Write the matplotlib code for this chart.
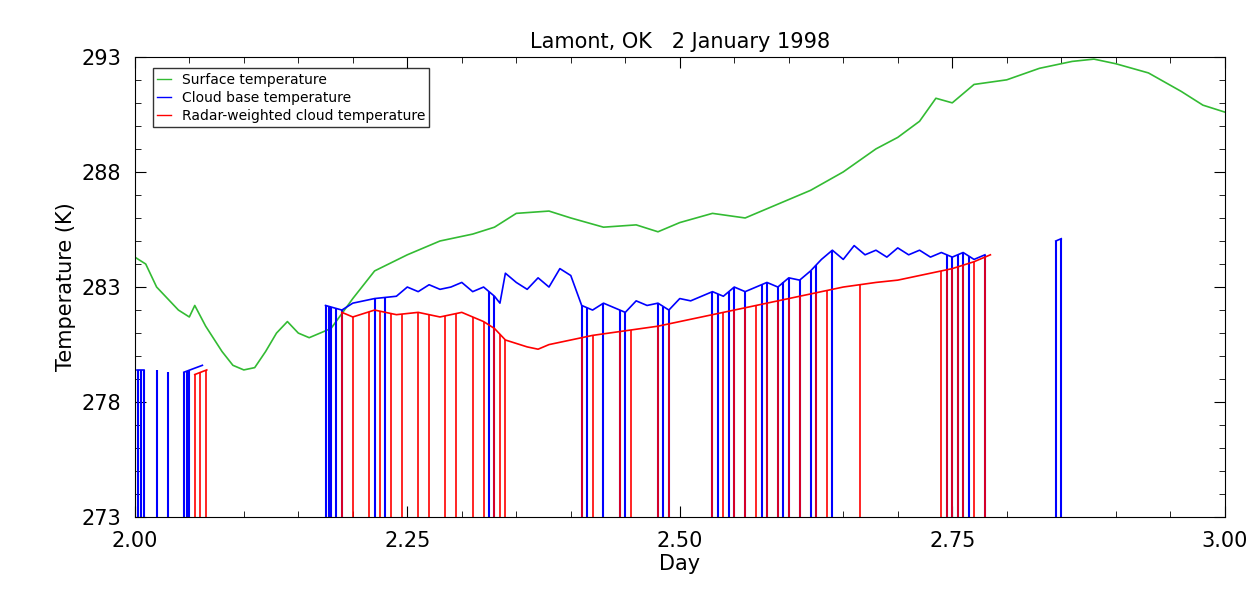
import numpy as np
import matplotlib.pyplot as plt
from matplotlib.ticker import MultipleLocator

# surface temperature (day, K)
sfc_day = [2.00,2.01,2.02,2.03,2.04,2.05,2.055,2.065,2.08,2.09,2.10,2.11,2.12,2.13,2.14,2.15,2.16,2.18,2.20,2.22,
           2.25,2.28,2.31,2.33,2.35,2.38,2.40,2.43,2.46,2.48,2.50,2.53,2.56,2.59,2.62,2.65,2.68,2.70,2.72,2.735,
           2.75,2.77,2.80,2.83,2.86,2.88,2.90,2.93,2.96,2.98,3.00]
sfc_T = [284.3,284.0,283.0,282.5,282.0,281.7,282.2,281.3,280.2,279.6,279.4,279.5,280.2,281.0,281.5,281.0,280.8,281.2,282.5,283.7,
         284.4,285.0,285.3,285.6,286.2,286.3,286.0,285.6,285.7,285.4,285.8,286.2,286.0,286.6,287.2,288.0,289.0,289.5,290.2,291.2,
         291.0,291.8,292.0,292.5,292.8,292.9,292.7,292.3,291.5,290.9,290.6]

# cloud base temperature, segments
cb_day = [[2.002,2.008],[2.045,2.062],
          [2.175,2.19,2.20,2.22,2.24,2.25,2.26,2.27,2.28,2.29,2.30,2.31,2.32,2.33,2.335,2.34,2.35,2.36,2.37,2.38,2.39,2.40,2.41,
           2.42,2.43,2.44,2.45,2.46,2.47,2.48,2.49,2.50,2.51,2.52,2.53,2.54,2.55,2.56,2.57,2.58,2.59,2.60,2.61,2.62,2.63,
           2.64,2.65,2.66,2.67,2.68,2.69,2.70,2.71,2.72,2.73,2.74,2.75,2.76,2.77,2.78],
          [2.845,2.85]]
cb_T = [[279.4,279.4],[279.3,279.6],
        [282.2,282.0,282.3,282.5,282.6,283.0,282.8,283.1,282.9,283.0,283.2,282.8,283.0,282.6,282.3,283.6,283.2,282.9,283.4,283.0,283.8,283.5,282.2,
         282.0,282.3,282.1,281.9,282.4,282.2,282.3,282.0,282.5,282.4,282.6,282.8,282.6,283.0,282.8,283.0,283.2,283.0,283.4,283.3,283.7,284.2,
         284.6,284.2,284.8,284.4,284.6,284.3,284.7,284.4,284.6,284.3,284.5,284.3,284.5,284.2,284.4],
        [285.0,285.1]]

# radar-weighted cloud temperature, segments
rw_day = [[2.055,2.066],
          [2.19,2.20,2.22,2.24,2.26,2.28,2.30,2.32,2.33,2.34,2.36,2.37,2.38,2.40,2.42,2.45,2.48,2.50,2.52,2.55,2.58,2.60,2.62,2.65,2.68,2.70,2.72,2.75,2.77,2.785]]
rw_T = [[279.2,279.4],
        [281.9,281.7,282.0,281.8,281.9,281.7,281.9,281.5,281.2,280.7,280.4,280.3,280.5,280.7,280.9,281.1,281.3,281.5,281.7,282.0,282.3,282.5,282.7,283.0,283.2,283.3,283.5,283.8,284.1,284.4]]

cb_drops = [2.003,2.006,2.008,2.020,2.030,2.045,2.048,2.050,2.175,2.178,2.180,2.185,2.190,2.220,2.230,2.325,2.330,2.410,2.415,
            2.430,2.445,2.450,2.480,2.485,2.490,2.530,2.535,2.545,2.550,2.560,2.575,2.580,2.590,2.595,2.600,2.610,2.620,2.625,
            2.640,2.745,2.750,2.755,2.760,2.765,2.780,2.845,2.850]
rw_drops = [2.055,2.060,2.065,2.190,2.200,2.215,2.225,2.235,2.245,2.260,2.270,2.285,2.295,2.310,2.320,2.330,2.335,2.340,
            2.410,2.420,2.445,2.455,2.480,2.490,2.530,2.540,2.550,2.560,2.570,2.580,2.590,2.600,2.610,2.625,2.635,2.665,
            2.740,2.745,2.750,2.755,2.760,2.770,2.780]

def top_of(t, days, temps):
    for d, v in zip(days, temps):
        if d[0] - 0.015 <= t <= d[-1] + 0.015:
            return np.interp(t, d, v)
    return np.interp(t, days[0], temps[0])

fig, ax = plt.subplots(figsize=(12.6, 5.98), dpi=100)
fig.subplots_adjust(left=0.107, right=0.972, top=0.905, bottom=0.135)

ax.plot(sfc_day, sfc_T, color='#33bb33', lw=1.2)
for d, v in zip(cb_day, cb_T):
    ax.plot(d, v, color='blue', lw=1.2)
ax.vlines(cb_drops, 273, [top_of(t, cb_day, cb_T) for t in cb_drops], color='blue', lw=1.5)
for d, v in zip(rw_day, rw_T):
    ax.plot(d, v, color='red', lw=1.2)
ax.vlines(rw_drops, 273, [top_of(t, rw_day, rw_T) for t in rw_drops], color='red', lw=1.2)

ax.plot([], [], color='#33bb33', lw=1, label='Surface temperature')
ax.plot([], [], color='blue', lw=1, label='Cloud base temperature')
ax.plot([], [], color='red', lw=1, label='Radar-weighted cloud temperature')
leg = ax.legend(handles=ax.lines[-3:], loc='upper left', fontsize=10, handlelength=1.0, fancybox=False,
                edgecolor='black', borderpad=0.3, labelspacing=0.3, bbox_to_anchor=(0.01, 0.99))

ax.set_xlim(2.0, 3.0)
ax.set_ylim(273, 293)
ax.set_xticks([2.0, 2.25, 2.5, 2.75, 3.0])
ax.set_xticklabels(['2.00', '2.25', '2.50', '2.75', '3.00'])
ax.set_yticks([273, 278, 283, 288, 293])
ax.xaxis.set_minor_locator(MultipleLocator(0.05))
ax.yaxis.set_minor_locator(MultipleLocator(1))
ax.tick_params(which='both', direction='in', top=True, right=True, labelsize=15)
ax.tick_params(which='major', length=8)
ax.tick_params(which='minor', length=4)
ax.tick_params(axis='x', pad=10)
ax.tick_params(axis='y', pad=10)
ax.set_xlabel('Day', fontsize=15, labelpad=2)
ax.set_ylabel('Temperature (K)', fontsize=15)
ax.set_title('Lamont, OK   2 January 1998', fontsize=15)

fig.savefig('out.png')
